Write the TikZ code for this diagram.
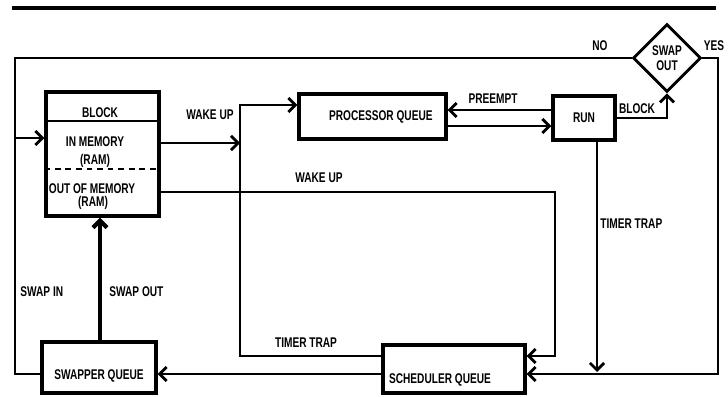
\documentclass[tikz,border=0pt]{standalone}
\usepackage{fontspec}
\setmainfont{Liberation Sans}[FakeStretch=0.72,BoldFeatures={FakeStretch=0.72}]
\usepackage{tikz}
\usetikzlibrary{positioning, arrows.meta, shapes.geometric}

\begin{document}
\begin{tikzpicture}[x=0.03cm, y=-0.03cm,
  qbox/.style={draw, line width=2.8pt, inner sep=0pt,
    font=\bfseries\fontsize{12}{13}\selectfont},
  decision/.style={diamond, draw, line width=2.4pt, inner sep=0pt,
    minimum size=2.04cm, align=center,
    font=\bfseries\fontsize{12}{13}\selectfont},
  wire/.style={line width=2.4pt},
  arrow/.style={-{Straight Barb[length=6pt,width=12pt]}, line width=2.4pt},
  lbl/.style={font=\bfseries\fontsize{12}{13}\selectfont, inner sep=1pt}
]
\useasboundingbox (0,0) rectangle (728,397);

% ---- rule ----
\draw[line width=3.2pt] (12,8) -- (716,8);

% ---- BOXES ----
\node[qbox, minimum width=3.39cm, minimum height=3.72cm] (blk) at (102.5,154) {};
\node[qbox, minimum width=4.41cm, minimum height=1.35cm] (pq)  at (372.5,116.5)
  {\hspace*{0.5cm}PROCESSOR QUEUE};
\node[qbox, minimum width=1.86cm, minimum height=1.32cm] (run) at (584,118) {RUN};
\node[qbox, minimum width=4.26cm, minimum height=1.44cm,
      text height=0.84cm, text depth=0pt] (sch) at (454,369)
  {SCHEDULER QUEUE\hspace*{0.84cm}};
\node[qbox, minimum width=3.42cm, minimum height=1.53cm,
      text height=0.7cm, text depth=0pt] (swp) at (99,367.5) {SWAPPER QUEUE};
\node[decision] (swo) at (667,58) {SWAP\\OUT};

% ---- inside BLOCK ----
\draw[line width=1.5pt] (blk.west |- 0,121) -- (blk.east |- 0,121);
\node[lbl] (blkt) at (100,113) {BLOCK};
\node[lbl] (inm)  at (95,142)  {IN MEMORY};
\node[lbl] (inr)  at (95,161)  {(RAM)};
\draw[line width=1.5pt, dash pattern=on 5pt off 4pt] (blk.west |- 0,169) -- (blk.east |- 0,169);
\node[lbl] (outm) at (92,189)  {OUT OF MEMORY};
\node[lbl] (outr) at (93,203)  {(RAM)};

% ---- free ends ----
\coordinate (wk) at (240,143);
\coordinate (tte) at (597,372);

% ---- connectors ----
\draw[arrow] (swo.west) -| (15,138) -- (blk.west |- 0,138);
\draw[wire] (swp.west |- 0,374) -| (15,138);
\draw[arrow] (blk.east |- 0,143) -- (wk);
\draw[arrow] (sch.west |- 0,356) -| (240,105) -- (pq.west |- 0,105);
\draw[arrow] (run.west |- 0,110) -- (pq.east |- 0,110);
\draw[arrow] (pq.east |- 0,126) -- (run.west |- 0,126);
\draw[arrow] (run.east) -| (swo.south);
\draw[arrow] (swo.east) -| (718,374) -- (sch.east |- 0,374);
\draw[arrow] (run.south -| tte) -- (tte);
\draw[arrow] (blk.east |- 0,192) -| (555,356) -- (sch.east |- 0,356);
\draw[arrow] (sch.west |- 0,374) -- (swp.east |- 0,374);
\draw[arrow, line width=3.6pt] (swp.north -| 100,0) -- (blk.south -| 100,0);

% ---- labels ----
\node[lbl] (l1) at (210,115) {WAKE UP};
\node[lbl] (l2) at (319,178) {WAKE UP};
\node[lbl] (l3) at (306,343) {TIMER TRAP};
\node[lbl] (l4) at (493,99)  {PREEMPT};
\node[lbl] (l5) at (637,109) {BLOCK};
\node[lbl] (l6) at (600,46)  {NO};
\node[lbl] (l7) at (714,46)  {YES};
\node[lbl, anchor=west] (l8) at (599,224) {TIMER TRAP};
\node[lbl, anchor=west] (l9) at (19,292)  {SWAP IN};
\node[lbl, anchor=west] (l10) at (108,292) {SWAP OUT};

\end{tikzpicture}
\end{document}
